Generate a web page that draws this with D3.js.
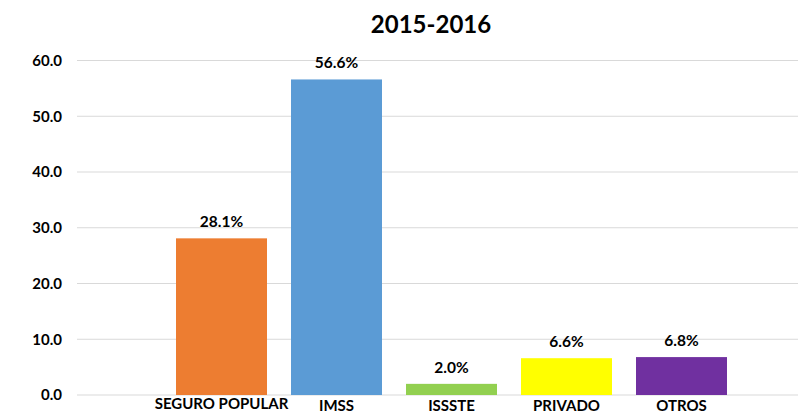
<!DOCTYPE html>
<html>
<head>
<meta charset="utf-8">
<script src="https://cdn.jsdelivr.net/npm/d3@7"></script>
<style>
  body { margin: 0; background: white; }
  text { font-family: Lato, "Open Sans", sans-serif; font-weight: bold; fill: #000; }
</style>
</head>
<body>
<div id="viz-container"></div>
<script>
let w = 798;
let h = 413;

let categories = ["SEGURO POPULAR", "IMSS", "ISSSTE", "PRIVADO", "OTROS"];
let values = [28.1, 56.6, 2.0, 6.6, 6.8];
let colors = ["#ED7D31", "#5B9BD5", "#92D050", "#FFFF00", "#7030A0"];
let ticks = [0, 10, 20, 30, 40, 50, 60];

let viz = d3.select("#viz-container")
  .append("svg")
    .attr("width", w)
    .attr("height", h)
    .style("background-color", "white");

let y = d3.scaleLinear().domain([0, 60]).range([395, 60.5]);

// band positions: step 115, bar 91
let x = d3.scaleBand()
  .domain(categories)
  .range([164, 739])
  .paddingInner(24 / 115)
  .paddingOuter(12 / 115);

// gridlines
viz.append("g").selectAll("line").data(ticks).enter()
  .append("line")
    .attr("x1", 77)
    .attr("x2", w)
    .attr("y1", d => y(d))
    .attr("y2", d => y(d))
    .attr("stroke", "#d9d9d9")
    .attr("stroke-width", 1);

// y tick labels
let yAxis = viz.append("g")
  .attr("transform", "translate(62,0)")
  .call(d3.axisLeft(y).tickValues(ticks).tickFormat(d3.format(".1f")).tickSize(0).tickPadding(0));
yAxis.select(".domain").remove();
yAxis.selectAll("text")
  .style("font-family", "Lato, 'Open Sans', sans-serif")
  .style("font-weight", "bold")
  .style("font-size", "15px")
  .attr("fill", "#000");

// bars
viz.append("g").selectAll("rect").data(values).enter()
  .append("rect")
    .attr("x", (d, i) => x(categories[i]))
    .attr("y", d => y(d))
    .attr("width", x.bandwidth())
    .attr("height", d => y(0) - y(d))
    .attr("fill", (d, i) => colors[i]);

// value labels
viz.append("g").selectAll("text").data(values).enter()
  .append("text")
    .attr("x", (d, i) => x(categories[i]) + x.bandwidth() / 2)
    .attr("y", d => y(d) - 11)
    .attr("text-anchor", "middle")
    .style("font-size", "15.5px")
    .text(d => d.toFixed(1) + "%");

// category labels (baseline near the bottom edge, as in the original)
let xAxis = viz.append("g")
  .attr("transform", "translate(0,395)")
  .call(d3.axisBottom(x).tickSize(0));
xAxis.select(".domain").remove();
xAxis.selectAll("text")
  .style("font-family", "Lato, 'Open Sans', sans-serif")
  .style("font-weight", "bold")
  .style("font-size", "15px")
  .attr("fill", "#000")
  .attr("dy", null)
  .attr("y", (d, i) => i == 0 ? 13.5 : 15.5);

// title
viz.append("text")
  .attr("x", 431)
  .attr("y", 33)
  .attr("text-anchor", "middle")
  .style("font-size", "24px")
  .text("2015-2016");
</script>
</body>
</html>
